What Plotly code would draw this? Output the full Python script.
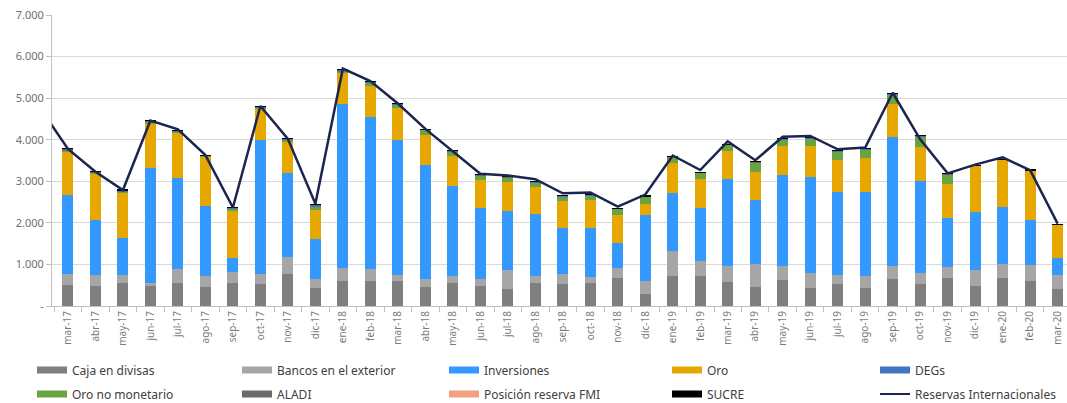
import plotly.graph_objects as go

meses = ["mar-17","abr-17","may-17","jun-17","jul-17","ago-17","sep-17","oct-17","nov-17","dic-17",
         "ene-18","feb-18","mar-18","abr-18","may-18","jun-18","jul-18","ago-18","sep-18","oct-18",
         "nov-18","dic-18","ene-19","feb-19","mar-19","abr-19","may-19","jun-19","jul-19","ago-19",
         "sep-19","oct-19","nov-19","dic-19","ene-20","feb-20","mar-20"]

# millones USD
caja = [505,480,560,480,560,460,550,530,770,430,600,600,600,460,560,480,400,560,540,560,
        680,290,715,715,585,460,620,440,530,445,640,530,670,480,685,610,400]
bancos = [265,270,190,70,320,260,260,250,410,215,310,290,150,180,160,160,470,160,220,140,
          225,305,605,375,375,555,350,355,205,275,325,270,280,390,325,380,350]
inversiones = [1900,1320,880,2760,2210,1690,340,3210,2020,975,3940,3660,3240,2740,2170,1710,1420,1490,1110,1180,
               610,1605,1390,1265,2090,1545,2180,2310,2015,2015,3095,2210,1175,1400,1360,1080,405]
oro = [1050,1110,1100,1080,1060,1180,1150,750,750,690,760,750,770,730,720,680,700,660,650,670,
       665,260,720,705,690,670,710,755,760,815,795,820,805,1100,1150,1190,805]
degs = [20,20,20,20,20,15,20,20,20,20,20,20,15,15,15,15,15,15,15,15,
        15,15,15,15,15,15,15,15,15,15,15,15,15,10,10,10,10]
oro_no_monetario = [30,20,30,40,50,20,40,30,50,90,40,70,85,125,105,105,95,105,125,115,
                    155,165,135,140,135,215,155,180,210,215,235,245,230,0,0,0,0]
aladi = [10,10,10,10,10,5,10,10,10,10,10,10,5,5,5,5,5,5,5,5,5,5,5,5,5,5,5,5,5,5,5,5,5,0,0,0,0]
posicion_fmi = [0]*37
sucre = [2]*37

# Reservas Internacionales (incluye feb-17, que queda fuera del area visible)
reservas_meses = ["feb-17"] + meses
reservas = [4750,3780,3230,2790,4460,4250,3630,2370,4810,4020,2460,5710,5410,4870,4260,3720,3180,3140,3050,2710,2730,
            2390,2680,3620,3270,3960,3505,4070,4090,3770,3810,5130,4010,3190,3400,3575,3265,1980]

yticks = [0,1000,2000,3000,4000,5000,6000,7000]
yticktext = ["-","1.000","2.000","3.000","4.000","5.000","6.000","7.000"]

series = [
    ("Caja en divisas", caja, "#7F7F7F"),
    ("Bancos en el exterior", bancos, "#A6A6A6"),
    ("Inversiones", inversiones, "#3399FF"),
    ("Oro", oro, "#E6A700"),
    ("DEGs", degs, "#4472C4"),
    ("Oro no monetario", oro_no_monetario, "#6AA341"),
    ("ALADI", aladi, "#6B6B6B"),
    ("Posición reserva FMI", posicion_fmi, "#F2A07E"),
    ("SUCRE", sucre, "#000000"),
]
stack_order = ["Caja en divisas","Bancos en el exterior","Inversiones","Oro","Oro no monetario",
               "DEGs","ALADI","Posición reserva FMI","SUCRE"]
sd = {n: (v, c) for n, v, c in series}
line_color = "#1C2550"

idx = list(range(len(meses)))
fig = go.Figure()
for n in stack_order:
    v, c = sd[n]
    fig.add_trace(go.Bar(x=idx, y=v, marker=dict(color=c, line=dict(width=0)), name=n,
                         showlegend=False, hoverinfo="skip"))

rx = [i - 1 for i in range(len(reservas_meses))]
fig.add_trace(go.Scatter(x=rx, y=reservas, mode="lines", line=dict(color=line_color, width=2.5),
                         name="Reservas Internacionales", showlegend=False, cliponaxis=True))

# legend: 5 columns x 2 rows
columns = [
    ["Caja en divisas", "Oro no monetario"],
    ["Bancos en el exterior", "ALADI"],
    ["Inversiones", "Posición reserva FMI"],
    ["Oro", "SUCRE"],
    ["DEGs", "Reservas Internacionales"],
]
col_x_px = [32, 237, 444, 667, 875]
plot_l, plot_w, plot_b, plot_h = 52, 1015, 306, 291
leg_font = dict(family="Noto Sans", size=12, color="#404040")
legend_layout = {}
for ci, names in enumerate(columns):
    lid = "legend" if ci == 0 else f"legend{ci + 1}"
    for ri, n in enumerate(names):
        if n == "Reservas Internacionales":
            c, w = line_color, 2
        else:
            c, w = sd[n][1], 7
        fig.add_trace(go.Scatter(x=[None], y=[None], mode="lines", line=dict(color=c, width=w),
                                 name=n, legend=lid, legendgroup=f"g{ci}{ri}"))
    legend_layout[lid] = dict(
        orientation="v", xanchor="left", yanchor="top",
        x=(col_x_px[ci] - plot_l) / plot_w, y=-(355.5 - plot_b) / plot_h,
        font=leg_font, itemwidth=30, bgcolor="rgba(0,0,0,0)",
        traceorder="grouped", tracegroupgap=5)

fig.update_layout(
    width=1067, height=403,
    margin=dict(l=52, r=0, t=15, b=97, autoexpand=False),
    paper_bgcolor="white", plot_bgcolor="white",
    barmode="stack", bargap=0.6,
    showlegend=True,
    xaxis=dict(range=[-0.58, 36.34], tickmode="array", tickvals=idx, ticktext=meses,
               tickangle=-90, tickfont=dict(family="Noto Sans", size=10, color="#7A7A7A"),
               showgrid=False, zeroline=False, showline=True, linecolor="#BFBFBF", linewidth=1,
               ticks="",
               minor=dict(tickmode="array", tickvals=[i + 0.5 for i in range(-1, len(meses))],
                          ticks="outside", ticklen=5, tickcolor="#BFBFBF", showgrid=False)),
    yaxis=dict(range=[0, 7000], tickmode="array", tickvals=yticks, ticktext=yticktext,
               tickfont=dict(family="Noto Sans", size=11, color="#707070"),
               showgrid=True, gridcolor="#D9D9D9", gridwidth=1, zeroline=False,
               showline=True, linecolor="#BFBFBF", linewidth=1,
               ticks="outside", ticklen=5, tickcolor="#BFBFBF"),
    **legend_layout,
)

fig.write_html("out.html", config={"displayModeBar": False},
               post_script="document.body.style.margin='0';document.body.style.overflow='hidden';")
